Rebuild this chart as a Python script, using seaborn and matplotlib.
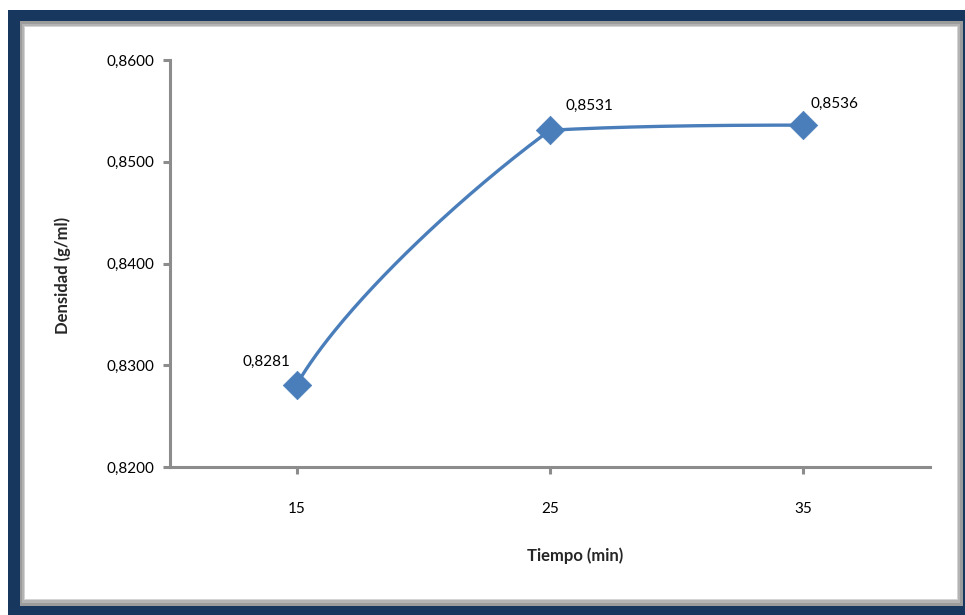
import numpy as np
import pandas as pd
import matplotlib
matplotlib.use("Agg")
import matplotlib.pyplot as plt
from matplotlib.patches import Rectangle
import seaborn as sns

# Data
tiempo = ["15", "25", "35"]
densidad = [0.8281, 0.8531, 0.8536]
etiquetas = ["0,8281", "0,8531", "0,8536"]
y_ticks = [0.8200, 0.8300, 0.8400, 0.8500, 0.8600]
y_tick_labels = ["0,8200", "0,8300", "0,8400", "0,8500", "0,8600"]

sns.set_theme(style="white")
plt.rcParams["font.family"] = ["Lato", "DejaVu Sans"]

W, H = 965, 615
fig = plt.figure(figsize=(W / 100, H / 100), dpi=100)
fig.patch.set_facecolor("white")


def px_rect(x0, y0, x1, y1, color, z):
    fig.patches.append(Rectangle((x0 / W, 1 - y1 / H), (x1 - x0) / W, (y1 - y0) / H,
                                 transform=fig.transFigure, facecolor=color,
                                 edgecolor="none", zorder=z))


# Frame: navy border, soft grey shadow, white panel
px_rect(8, 10, W, H, "#17375e", 0)
px_rect(20, 21, 963, 606, "#9c9c9c", 0.1)
px_rect(22, 24, 960, 603, "#b4b4b4", 0.2)
px_rect(24, 26, 958, 600, "#d4d4d4", 0.25)
px_rect(25, 27, 957, 599, "white", 0.3)

ax = fig.add_axes([170 / W, 1 - 467 / H, (930 - 170) / W, (467 - 60) / H])
ax.set_facecolor("none")
ax.set_zorder(1)

xpos = np.arange(len(tiempo), dtype=float)
ypos = np.array(densidad)

# Smoothed curve: one cubic Bezier per segment; control points are placed as
# fractions of each segment's (dx, dy) so the line bends like a smoothed series
ctrl_frac = [((0.18, 0.31), (0.35, 0.255)),
             ((0.33, 0.85), (0.33, 0.0))]
t = np.linspace(0, 1, 100)
curve = []
for i in range(len(xpos) - 1):
    p1 = np.array([xpos[i], ypos[i]])
    p2 = np.array([xpos[i + 1], ypos[i + 1]])
    d = p2 - p1
    (a1, b1), (a2, b2) = ctrl_frac[i]
    c1 = p1 + np.array([a1 * d[0], b1 * d[1]])
    c2 = p2 - np.array([a2 * d[0], b2 * d[1]])
    seg = ((1 - t) ** 3)[:, None] * p1 + (3 * (1 - t) ** 2 * t)[:, None] * c1 \
        + (3 * (1 - t) * t ** 2)[:, None] * c2 + (t ** 3)[:, None] * p2
    curve.append(seg if i == 0 else seg[1:])
curve = np.vstack(curve)
curve_df = pd.DataFrame({"x": curve[:, 0], "y": curve[:, 1]})
pts_df = pd.DataFrame({"x": xpos, "y": ypos})

sns.lineplot(data=curve_df, x="x", y="y", ax=ax, color="#4a7ebb", linewidth=2.4,
             sort=False, estimator=None)
sns.scatterplot(data=pts_df, x="x", y="y", ax=ax, marker="D", s=210,
                color="#4a7ebb", edgecolor="#4a7ebb", linewidth=0.5, zorder=3)

offsets = [(-30, 23), (39, 24), (31, 21)]
for xi, yi, lab, off in zip(xpos, ypos, etiquetas, offsets):
    ax.annotate(lab, (xi, yi), xytext=off, textcoords="offset pixels",
                ha="center", va="center", fontsize=11, color="black")

ax.set_xlim(-0.5, len(tiempo) - 0.5)
ax.set_ylim(0.82, 0.86)
ax.set_xticks(xpos)
ax.set_xticklabels(tiempo)
ax.set_yticks(y_ticks)
ax.set_yticklabels(y_tick_labels)

for side in ["top", "right"]:
    ax.spines[side].set_visible(False)
for side in ["left", "bottom"]:
    ax.spines[side].set_color("#8c8c8c")
    ax.spines[side].set_linewidth(2.2)

ax.tick_params(axis="both", which="major", direction="out", length=5, width=2.2,
               color="#8c8c8c", labelsize=11, labelcolor="black")
ax.tick_params(axis="y", pad=6, left=True)
ax.tick_params(axis="x", pad=20, bottom=True)

ax.set_xlabel("")
ax.set_ylabel("")
fig.text(575 / W, 1 - 556 / H, "Tiempo (min)", ha="center", va="center",
         fontsize=12, fontweight="bold")
fig.text(63 / W, 1 - 275 / H, "Densidad (g/ml)", ha="center", va="center",
         rotation=90, fontsize=12, fontweight="bold")

fig.savefig("out.png", dpi=100)
